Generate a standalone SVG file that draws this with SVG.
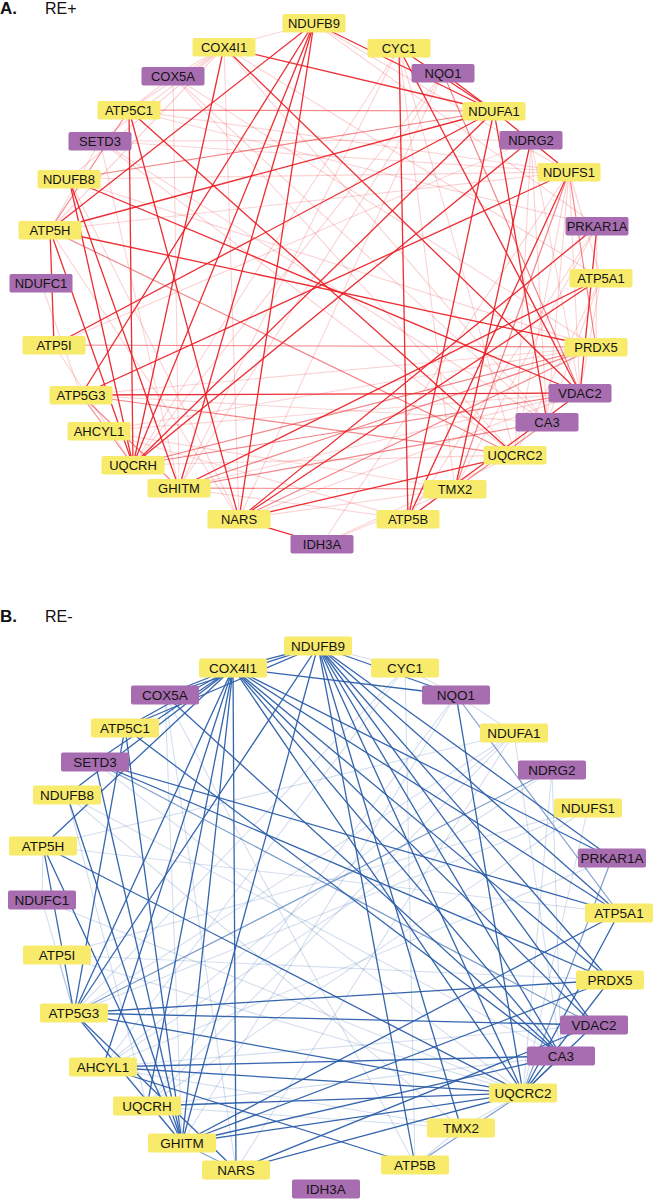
<svg xmlns="http://www.w3.org/2000/svg" width="653" height="1200" viewBox="0 0 653 1200">
<style>
.bg{fill:#ffffff}
.ttl{font-family:"Liberation Sans",Arial,sans-serif;font-size:17px;font-weight:bold;fill:#111}
.sub{font-family:"Liberation Sans",Arial,sans-serif;font-size:16px;fill:#111}
.y{fill:#f8eb6c}
.p{fill:#a86db0}
.ta{font-family:"Liberation Sans",Arial,sans-serif;font-size:13px;fill:#141414;text-anchor:middle;dominant-baseline:central}
.tb{font-family:"Liberation Sans",Arial,sans-serif;font-size:13.5px;fill:#141414;text-anchor:middle;dominant-baseline:central}
.ad{stroke:#eb2228;stroke-width:1.3;stroke-opacity:0.95}
.am{stroke:#eb2228;stroke-width:1.2;stroke-opacity:0.55}
.al{stroke:#eb2228;stroke-width:1.1;stroke-opacity:0.2}
.bd{stroke:#2a5daa;stroke-width:1.3;stroke-opacity:0.95}
.bm{stroke:#2a5daa;stroke-width:1.2;stroke-opacity:0.6}
.bl{stroke:#2a5daa;stroke-width:1.1;stroke-opacity:0.2}
</style>
<rect class="bg" x="0" y="0" width="653" height="1200"/>
<text class="ttl" x="0" y="14">A.</text>
<text class="sub" x="45" y="14">RE+</text>
<text class="ttl" x="0" y="622">B.</text>
<text class="sub" x="45" y="622">RE-</text>

<g id="edges-A" fill="none">
<line class="al" x1="314" y1="23" x2="224" y2="47"/>
<line class="al" x1="224" y1="47" x2="129" y2="110"/>
<line class="al" x1="224" y1="47" x2="69" y2="179"/>
<line class="al" x1="224" y1="47" x2="100" y2="141"/>
<line class="al" x1="224" y1="47" x2="50" y2="230"/>
<line class="al" x1="224" y1="47" x2="173" y2="76"/>
<line class="al" x1="173" y1="76" x2="129" y2="110"/>
<line class="al" x1="100" y1="141" x2="50" y2="230"/>
<line class="al" x1="100" y1="141" x2="569" y2="172"/>
<line class="al" x1="100" y1="141" x2="531" y2="140"/>
<line class="al" x1="54" y1="345" x2="133" y2="465"/>
<line class="al" x1="81" y1="395" x2="547" y2="422"/>
<line class="al" x1="99" y1="431" x2="580" y2="393"/>
<line class="al" x1="99" y1="431" x2="455" y2="489"/>
<line class="al" x1="99" y1="431" x2="408" y2="519"/>
<line class="al" x1="322" y1="544" x2="515" y2="455"/>
<line class="al" x1="322" y1="544" x2="455" y2="489"/>
<line class="al" x1="569" y1="172" x2="580" y2="393"/>
<line class="al" x1="569" y1="172" x2="547" y2="422"/>
<line class="al" x1="569" y1="172" x2="515" y2="455"/>
<line class="al" x1="569" y1="172" x2="601" y2="278"/>
<line class="al" x1="531" y1="140" x2="547" y2="422"/>
<line class="al" x1="531" y1="140" x2="580" y2="393"/>
<line class="al" x1="597" y1="226" x2="596" y2="347"/>
<line class="al" x1="601" y1="278" x2="580" y2="393"/>
<line class="al" x1="601" y1="278" x2="547" y2="422"/>
<line class="al" x1="601" y1="278" x2="515" y2="455"/>
<line class="al" x1="443" y1="73" x2="133" y2="465"/>
<line class="al" x1="443" y1="73" x2="179" y2="488"/>
<line class="al" x1="399" y1="48" x2="515" y2="455"/>
<line class="al" x1="399" y1="48" x2="455" y2="489"/>
<line class="al" x1="314" y1="23" x2="569" y2="172"/>
<line class="al" x1="314" y1="23" x2="597" y2="226"/>
<line class="al" x1="224" y1="47" x2="601" y2="278"/>
<line class="al" x1="224" y1="47" x2="547" y2="422"/>
<line class="al" x1="129" y1="110" x2="597" y2="226"/>
<line class="al" x1="173" y1="76" x2="596" y2="347"/>
<line class="al" x1="100" y1="141" x2="179" y2="488"/>
<line class="al" x1="69" y1="179" x2="239" y2="519"/>
<line class="al" x1="50" y1="230" x2="239" y2="519"/>
<line class="al" x1="239" y1="519" x2="455" y2="489"/>
<line class="al" x1="179" y1="488" x2="408" y2="519"/>
<line class="al" x1="133" y1="465" x2="515" y2="455"/>
<line class="al" x1="69" y1="179" x2="569" y2="172"/>
<line class="al" x1="224" y1="47" x2="239" y2="519"/>
<line class="al" x1="173" y1="76" x2="547" y2="422"/>
<line class="al" x1="173" y1="76" x2="179" y2="488"/>
<line class="al" x1="41" y1="283" x2="81" y2="395"/>
<line class="al" x1="531" y1="140" x2="515" y2="455"/>
<line class="al" x1="173" y1="76" x2="515" y2="455"/>
<line class="al" x1="100" y1="141" x2="547" y2="422"/>
<line class="al" x1="100" y1="141" x2="515" y2="455"/>
<line class="al" x1="129" y1="110" x2="569" y2="172"/>
<line class="al" x1="69" y1="179" x2="596" y2="347"/>
<line class="al" x1="50" y1="230" x2="569" y2="172"/>
<line class="al" x1="54" y1="345" x2="531" y2="140"/>
<line class="al" x1="81" y1="395" x2="596" y2="347"/>
<line class="al" x1="99" y1="431" x2="596" y2="347"/>
<line class="al" x1="179" y1="488" x2="580" y2="393"/>
<line class="al" x1="239" y1="519" x2="580" y2="393"/>
<line class="al" x1="455" y1="489" x2="597" y2="226"/>
<line class="al" x1="408" y1="519" x2="597" y2="226"/>
<line class="al" x1="322" y1="544" x2="569" y2="172"/>
<line class="al" x1="399" y1="48" x2="133" y2="465"/>
<line class="al" x1="443" y1="73" x2="239" y2="519"/>
<line class="al" x1="399" y1="48" x2="179" y2="488"/>
<line class="am" x1="69" y1="179" x2="494" y2="111"/>
<line class="am" x1="50" y1="230" x2="515" y2="455"/>
<line class="am" x1="133" y1="465" x2="596" y2="347"/>
<line class="am" x1="179" y1="488" x2="547" y2="422"/>
<line class="am" x1="596" y1="347" x2="179" y2="488"/>
<line class="am" x1="596" y1="347" x2="239" y2="519"/>
<line class="am" x1="569" y1="172" x2="596" y2="347"/>
<line class="am" x1="133" y1="465" x2="580" y2="393"/>
<line class="am" x1="129" y1="110" x2="50" y2="230"/>
<line class="am" x1="455" y1="489" x2="547" y2="422"/>
<line class="am" x1="81" y1="395" x2="515" y2="455"/>
<line class="am" x1="81" y1="395" x2="179" y2="488"/>
<line class="am" x1="81" y1="395" x2="133" y2="465"/>
<line class="am" x1="443" y1="73" x2="580" y2="393"/>
<line class="am" x1="569" y1="172" x2="455" y2="489"/>
<line class="am" x1="54" y1="345" x2="596" y2="347"/>
<line class="am" x1="179" y1="488" x2="455" y2="489"/>
<line class="am" x1="494" y1="111" x2="129" y2="110"/>
<line class="ad" x1="314" y1="23" x2="50" y2="230"/>
<line class="ad" x1="314" y1="23" x2="133" y2="465"/>
<line class="ad" x1="314" y1="23" x2="494" y2="111"/>
<line class="ad" x1="314" y1="23" x2="239" y2="519"/>
<line class="ad" x1="314" y1="23" x2="179" y2="488"/>
<line class="ad" x1="314" y1="23" x2="81" y2="395"/>
<line class="ad" x1="399" y1="48" x2="408" y2="519"/>
<line class="ad" x1="399" y1="48" x2="580" y2="393"/>
<line class="ad" x1="399" y1="48" x2="494" y2="111"/>
<line class="ad" x1="224" y1="47" x2="494" y2="111"/>
<line class="ad" x1="224" y1="47" x2="580" y2="393"/>
<line class="ad" x1="224" y1="47" x2="133" y2="465"/>
<line class="ad" x1="494" y1="111" x2="50" y2="230"/>
<line class="ad" x1="494" y1="111" x2="54" y2="345"/>
<line class="ad" x1="494" y1="111" x2="133" y2="465"/>
<line class="ad" x1="494" y1="111" x2="547" y2="422"/>
<line class="ad" x1="494" y1="111" x2="408" y2="519"/>
<line class="ad" x1="443" y1="73" x2="494" y2="111"/>
<line class="ad" x1="494" y1="111" x2="569" y2="172"/>
<line class="ad" x1="50" y1="230" x2="596" y2="347"/>
<line class="ad" x1="50" y1="230" x2="54" y2="345"/>
<line class="ad" x1="50" y1="230" x2="133" y2="465"/>
<line class="ad" x1="69" y1="179" x2="580" y2="393"/>
<line class="ad" x1="69" y1="179" x2="133" y2="465"/>
<line class="ad" x1="69" y1="179" x2="179" y2="488"/>
<line class="ad" x1="129" y1="110" x2="133" y2="465"/>
<line class="ad" x1="129" y1="110" x2="239" y2="519"/>
<line class="ad" x1="129" y1="110" x2="515" y2="455"/>
<line class="ad" x1="81" y1="395" x2="569" y2="172"/>
<line class="ad" x1="81" y1="395" x2="580" y2="393"/>
<line class="ad" x1="239" y1="519" x2="597" y2="226"/>
<line class="ad" x1="239" y1="519" x2="601" y2="278"/>
<line class="ad" x1="239" y1="519" x2="515" y2="455"/>
<line class="ad" x1="239" y1="519" x2="322" y2="544"/>
<line class="ad" x1="179" y1="488" x2="601" y2="278"/>
<line class="ad" x1="408" y1="519" x2="580" y2="393"/>
<line class="ad" x1="133" y1="465" x2="531" y2="140"/>
<line class="ad" x1="569" y1="172" x2="408" y2="519"/>
<line class="ad" x1="531" y1="140" x2="455" y2="489"/>
<line class="ad" x1="597" y1="226" x2="580" y2="393"/>
</g>

<g id="edges-B" fill="none">
<line class="bl" x1="405" y1="668" x2="103" y2="1067"/>
<line class="bl" x1="405" y1="668" x2="415" y2="1165"/>
<line class="bl" x1="456" y1="695" x2="147" y2="1106"/>
<line class="bl" x1="514" y1="733" x2="74" y2="1013"/>
<line class="bl" x1="588" y1="808" x2="57" y2="955"/>
<line class="bl" x1="552" y1="770" x2="523" y2="1093"/>
<line class="bl" x1="552" y1="770" x2="561" y2="1056"/>
<line class="bl" x1="456" y1="695" x2="514" y2="733"/>
<line class="bl" x1="42" y1="900" x2="74" y2="1013"/>
<line class="bl" x1="42" y1="900" x2="43" y2="846"/>
<line class="bl" x1="57" y1="955" x2="74" y2="1013"/>
<line class="bl" x1="57" y1="955" x2="523" y2="1093"/>
<line class="bl" x1="461" y1="1128" x2="523" y2="1093"/>
<line class="bl" x1="67" y1="795" x2="147" y2="1106"/>
<line class="bl" x1="67" y1="795" x2="561" y2="1056"/>
<line class="bl" x1="95" y1="762" x2="523" y2="1093"/>
<line class="bl" x1="165" y1="695" x2="182" y2="1143"/>
<line class="bl" x1="165" y1="695" x2="236" y2="1170"/>
<line class="bl" x1="103" y1="1067" x2="514" y2="733"/>
<line class="bl" x1="103" y1="1067" x2="552" y2="770"/>
<line class="bl" x1="147" y1="1106" x2="561" y2="1056"/>
<line class="bl" x1="103" y1="1067" x2="594" y2="1025"/>
<line class="bl" x1="318" y1="646" x2="405" y2="668"/>
<line class="bl" x1="405" y1="668" x2="456" y2="695"/>
<line class="bl" x1="43" y1="846" x2="619" y2="913"/>
<line class="bl" x1="588" y1="808" x2="523" y2="1093"/>
<line class="bl" x1="588" y1="808" x2="147" y2="1106"/>
<line class="bl" x1="514" y1="733" x2="561" y2="1056"/>
<line class="bl" x1="461" y1="1128" x2="415" y2="1165"/>
<line class="bl" x1="147" y1="1106" x2="461" y2="1128"/>
<line class="bl" x1="103" y1="1067" x2="461" y2="1128"/>
<line class="bl" x1="514" y1="733" x2="147" y2="1106"/>
<line class="bl" x1="514" y1="733" x2="236" y2="1170"/>
<line class="bl" x1="456" y1="695" x2="182" y2="1143"/>
<line class="bl" x1="405" y1="668" x2="74" y2="1013"/>
<line class="bl" x1="588" y1="808" x2="74" y2="1013"/>
<line class="bl" x1="612" y1="858" x2="103" y2="1067"/>
<line class="bl" x1="57" y1="955" x2="610" y2="980"/>
<line class="bl" x1="42" y1="900" x2="523" y2="1093"/>
<line class="bl" x1="67" y1="795" x2="461" y2="1128"/>
<line class="bl" x1="165" y1="695" x2="415" y2="1165"/>
<line class="bl" x1="514" y1="733" x2="43" y2="846"/>
<line class="bm" x1="552" y1="770" x2="74" y2="1013"/>
<line class="bm" x1="456" y1="695" x2="619" y2="913"/>
<line class="bm" x1="415" y1="1165" x2="523" y2="1093"/>
<line class="bm" x1="612" y1="858" x2="523" y2="1093"/>
<line class="bm" x1="236" y1="1170" x2="182" y2="1143"/>
<line class="bm" x1="95" y1="762" x2="594" y2="1025"/>
<line class="bm" x1="561" y1="1056" x2="523" y2="1093"/>
<line class="bd" x1="318" y1="646" x2="233" y2="668"/>
<line class="bd" x1="318" y1="646" x2="165" y2="695"/>
<line class="bd" x1="318" y1="646" x2="125" y2="728"/>
<line class="bd" x1="318" y1="646" x2="456" y2="695"/>
<line class="bd" x1="318" y1="646" x2="415" y2="1165"/>
<line class="bd" x1="318" y1="646" x2="523" y2="1093"/>
<line class="bd" x1="318" y1="646" x2="561" y2="1056"/>
<line class="bd" x1="318" y1="646" x2="594" y2="1025"/>
<line class="bd" x1="318" y1="646" x2="610" y2="980"/>
<line class="bd" x1="318" y1="646" x2="619" y2="913"/>
<line class="bd" x1="318" y1="646" x2="612" y2="858"/>
<line class="bd" x1="318" y1="646" x2="74" y2="1013"/>
<line class="bd" x1="318" y1="646" x2="182" y2="1143"/>
<line class="bd" x1="318" y1="646" x2="461" y2="1128"/>
<line class="bd" x1="233" y1="668" x2="165" y2="695"/>
<line class="bd" x1="233" y1="668" x2="125" y2="728"/>
<line class="bd" x1="233" y1="668" x2="95" y2="762"/>
<line class="bd" x1="233" y1="668" x2="67" y2="795"/>
<line class="bd" x1="233" y1="668" x2="43" y2="846"/>
<line class="bd" x1="233" y1="668" x2="236" y2="1170"/>
<line class="bd" x1="233" y1="668" x2="182" y2="1143"/>
<line class="bd" x1="233" y1="668" x2="147" y2="1106"/>
<line class="bd" x1="233" y1="668" x2="103" y2="1067"/>
<line class="bd" x1="233" y1="668" x2="74" y2="1013"/>
<line class="bd" x1="233" y1="668" x2="456" y2="695"/>
<line class="bd" x1="233" y1="668" x2="612" y2="858"/>
<line class="bd" x1="233" y1="668" x2="619" y2="913"/>
<line class="bd" x1="233" y1="668" x2="523" y2="1093"/>
<line class="bd" x1="233" y1="668" x2="561" y2="1056"/>
<line class="bd" x1="233" y1="668" x2="594" y2="1025"/>
<line class="bd" x1="233" y1="668" x2="610" y2="980"/>
<line class="bd" x1="165" y1="695" x2="561" y2="1056"/>
<line class="bd" x1="125" y1="728" x2="74" y2="1013"/>
<line class="bd" x1="125" y1="728" x2="182" y2="1143"/>
<line class="bd" x1="125" y1="728" x2="561" y2="1056"/>
<line class="bd" x1="95" y1="762" x2="619" y2="913"/>
<line class="bd" x1="95" y1="762" x2="182" y2="1143"/>
<line class="bd" x1="95" y1="762" x2="610" y2="980"/>
<line class="bd" x1="43" y1="846" x2="74" y2="1013"/>
<line class="bd" x1="43" y1="846" x2="182" y2="1143"/>
<line class="bd" x1="43" y1="846" x2="523" y2="1093"/>
<line class="bd" x1="74" y1="1013" x2="610" y2="980"/>
<line class="bd" x1="74" y1="1013" x2="594" y2="1025"/>
<line class="bd" x1="74" y1="1013" x2="523" y2="1093"/>
<line class="bd" x1="74" y1="1013" x2="236" y2="1170"/>
<line class="bd" x1="74" y1="1013" x2="182" y2="1143"/>
<line class="bd" x1="103" y1="1067" x2="561" y2="1056"/>
<line class="bd" x1="103" y1="1067" x2="523" y2="1093"/>
<line class="bd" x1="103" y1="1067" x2="415" y2="1165"/>
<line class="bd" x1="147" y1="1106" x2="523" y2="1093"/>
<line class="bd" x1="182" y1="1143" x2="619" y2="913"/>
<line class="bd" x1="182" y1="1143" x2="610" y2="980"/>
<line class="bd" x1="182" y1="1143" x2="561" y2="1056"/>
<line class="bd" x1="182" y1="1143" x2="523" y2="1093"/>
<line class="bd" x1="236" y1="1170" x2="523" y2="1093"/>
<line class="bd" x1="236" y1="1170" x2="594" y2="1025"/>
<line class="bd" x1="456" y1="695" x2="523" y2="1093"/>
<line class="bd" x1="610" y1="980" x2="523" y2="1093"/>
<line class="bd" x1="619" y1="913" x2="523" y2="1093"/>
<line class="bd" x1="594" y1="1025" x2="523" y2="1093"/>
<line class="bd" x1="67" y1="795" x2="182" y2="1143"/>
</g>

<g id="nodes-A">
<g id="a-NDUFB9"><rect class="y" x="282.5" y="14" width="63" height="18.5" rx="2"/><text class="ta" x="314" y="23.5">NDUFB9</text></g>
<g id="a-CYC1"><rect class="y" x="367.5" y="39" width="63" height="18.5" rx="2"/><text class="ta" x="399" y="48.5">CYC1</text></g>
<g id="a-NQO1"><rect class="p" x="411.5" y="64" width="63" height="18.5" rx="2"/><text class="ta" x="443" y="73.5">NQO1</text></g>
<g id="a-NDUFA1"><rect class="y" x="462.5" y="102" width="63" height="18.5" rx="2"/><text class="ta" x="494" y="111.5">NDUFA1</text></g>
<g id="a-NDRG2"><rect class="p" x="499.5" y="131" width="63" height="18.5" rx="2"/><text class="ta" x="531" y="140.5">NDRG2</text></g>
<g id="a-NDUFS1"><rect class="y" x="537.5" y="163" width="63" height="18.5" rx="2"/><text class="ta" x="569" y="172.5">NDUFS1</text></g>
<g id="a-PRKAR1A"><rect class="p" x="565.5" y="217" width="63" height="18.5" rx="2"/><text class="ta" x="597" y="226.5">PRKAR1A</text></g>
<g id="a-ATP5A1"><rect class="y" x="569.5" y="269" width="63" height="18.5" rx="2"/><text class="ta" x="601" y="278.5">ATP5A1</text></g>
<g id="a-PRDX5"><rect class="y" x="564.5" y="338" width="63" height="18.5" rx="2"/><text class="ta" x="596" y="347.5">PRDX5</text></g>
<g id="a-VDAC2"><rect class="p" x="548.5" y="384" width="63" height="18.5" rx="2"/><text class="ta" x="580" y="393.5">VDAC2</text></g>
<g id="a-CA3"><rect class="p" x="515.5" y="413" width="63" height="18.5" rx="2"/><text class="ta" x="547" y="422.5">CA3</text></g>
<g id="a-UQCRC2"><rect class="y" x="483.5" y="446" width="63" height="18.5" rx="2"/><text class="ta" x="515" y="455.5">UQCRC2</text></g>
<g id="a-TMX2"><rect class="y" x="423.5" y="480" width="63" height="18.5" rx="2"/><text class="ta" x="455" y="489.5">TMX2</text></g>
<g id="a-ATP5B"><rect class="y" x="376.5" y="510" width="63" height="18.5" rx="2"/><text class="ta" x="408" y="519.5">ATP5B</text></g>
<g id="a-IDH3A"><rect class="p" x="290.5" y="535" width="63" height="18.5" rx="2"/><text class="ta" x="322" y="544.5">IDH3A</text></g>
<g id="a-NARS"><rect class="y" x="207.5" y="510" width="63" height="18.5" rx="2"/><text class="ta" x="239" y="519.5">NARS</text></g>
<g id="a-GHITM"><rect class="y" x="147.5" y="479" width="63" height="18.5" rx="2"/><text class="ta" x="179" y="488.5">GHITM</text></g>
<g id="a-UQCRH"><rect class="y" x="101.5" y="456" width="63" height="18.5" rx="2"/><text class="ta" x="133" y="465.5">UQCRH</text></g>
<g id="a-AHCYL1"><rect class="y" x="67.5" y="422" width="63" height="18.5" rx="2"/><text class="ta" x="99" y="431.5">AHCYL1</text></g>
<g id="a-ATP5G3"><rect class="y" x="49.5" y="386" width="63" height="18.5" rx="2"/><text class="ta" x="81" y="395.5">ATP5G3</text></g>
<g id="a-ATP5I"><rect class="y" x="22.5" y="336" width="63" height="18.5" rx="2"/><text class="ta" x="54" y="345.5">ATP5I</text></g>
<g id="a-NDUFC1"><rect class="p" x="9.5" y="274" width="63" height="18.5" rx="2"/><text class="ta" x="41" y="283.5">NDUFC1</text></g>
<g id="a-ATP5H"><rect class="y" x="18.5" y="221" width="63" height="18.5" rx="2"/><text class="ta" x="50" y="230.5">ATP5H</text></g>
<g id="a-NDUFB8"><rect class="y" x="37.5" y="170" width="63" height="18.5" rx="2"/><text class="ta" x="69" y="179.5">NDUFB8</text></g>
<g id="a-SETD3"><rect class="p" x="68.5" y="132" width="63" height="18.5" rx="2"/><text class="ta" x="100" y="141.5">SETD3</text></g>
<g id="a-ATP5C1"><rect class="y" x="97.5" y="101" width="63" height="18.5" rx="2"/><text class="ta" x="129" y="110.5">ATP5C1</text></g>
<g id="a-COX5A"><rect class="p" x="141.5" y="67" width="63" height="18.5" rx="2"/><text class="ta" x="173" y="76.5">COX5A</text></g>
<g id="a-COX4I1"><rect class="y" x="192.5" y="38" width="63" height="18.5" rx="2"/><text class="ta" x="224" y="47.5">COX4I1</text></g>
</g>

<g id="nodes-B">
<g id="b-NDUFB9"><rect class="y" x="284" y="636.5" width="68" height="19" rx="2"/><text class="tb" x="318" y="646.5">NDUFB9</text></g>
<g id="b-CYC1"><rect class="y" x="371" y="658.5" width="68" height="19" rx="2"/><text class="tb" x="405" y="668.5">CYC1</text></g>
<g id="b-NQO1"><rect class="p" x="422" y="685.5" width="68" height="19" rx="2"/><text class="tb" x="456" y="695.5">NQO1</text></g>
<g id="b-NDUFA1"><rect class="y" x="480" y="723.5" width="68" height="19" rx="2"/><text class="tb" x="514" y="733.5">NDUFA1</text></g>
<g id="b-NDRG2"><rect class="p" x="518" y="760.5" width="68" height="19" rx="2"/><text class="tb" x="552" y="770.5">NDRG2</text></g>
<g id="b-NDUFS1"><rect class="y" x="554" y="798.5" width="68" height="19" rx="2"/><text class="tb" x="588" y="808.5">NDUFS1</text></g>
<g id="b-PRKAR1A"><rect class="p" x="578" y="848.5" width="68" height="19" rx="2"/><text class="tb" x="612" y="858.5">PRKAR1A</text></g>
<g id="b-ATP5A1"><rect class="y" x="585" y="903.5" width="68" height="19" rx="2"/><text class="tb" x="619" y="913.5">ATP5A1</text></g>
<g id="b-PRDX5"><rect class="y" x="576" y="970.5" width="68" height="19" rx="2"/><text class="tb" x="610" y="980.5">PRDX5</text></g>
<g id="b-VDAC2"><rect class="p" x="560" y="1015.5" width="68" height="19" rx="2"/><text class="tb" x="594" y="1025.5">VDAC2</text></g>
<g id="b-CA3"><rect class="p" x="527" y="1046.5" width="68" height="19" rx="2"/><text class="tb" x="561" y="1056.5">CA3</text></g>
<g id="b-UQCRC2"><rect class="y" x="489" y="1083.5" width="68" height="19" rx="2"/><text class="tb" x="523" y="1093.5">UQCRC2</text></g>
<g id="b-TMX2"><rect class="y" x="427" y="1118.5" width="68" height="19" rx="2"/><text class="tb" x="461" y="1128.5">TMX2</text></g>
<g id="b-ATP5B"><rect class="y" x="381" y="1155.5" width="68" height="19" rx="2"/><text class="tb" x="415" y="1165.5">ATP5B</text></g>
<g id="b-IDH3A"><rect class="p" x="292" y="1179.5" width="68" height="19" rx="2"/><text class="tb" x="326" y="1189.5">IDH3A</text></g>
<g id="b-NARS"><rect class="y" x="202" y="1160.5" width="68" height="19" rx="2"/><text class="tb" x="236" y="1170.5">NARS</text></g>
<g id="b-GHITM"><rect class="y" x="148" y="1133.5" width="68" height="19" rx="2"/><text class="tb" x="182" y="1143.5">GHITM</text></g>
<g id="b-UQCRH"><rect class="y" x="113" y="1096.5" width="68" height="19" rx="2"/><text class="tb" x="147" y="1106.5">UQCRH</text></g>
<g id="b-AHCYL1"><rect class="y" x="69" y="1057.5" width="68" height="19" rx="2"/><text class="tb" x="103" y="1067.5">AHCYL1</text></g>
<g id="b-ATP5G3"><rect class="y" x="40" y="1003.5" width="68" height="19" rx="2"/><text class="tb" x="74" y="1013.5">ATP5G3</text></g>
<g id="b-ATP5I"><rect class="y" x="23" y="945.5" width="68" height="19" rx="2"/><text class="tb" x="57" y="955.5">ATP5I</text></g>
<g id="b-NDUFC1"><rect class="p" x="8" y="890.5" width="68" height="19" rx="2"/><text class="tb" x="42" y="900.5">NDUFC1</text></g>
<g id="b-ATP5H"><rect class="y" x="9" y="836.5" width="68" height="19" rx="2"/><text class="tb" x="43" y="846.5">ATP5H</text></g>
<g id="b-NDUFB8"><rect class="y" x="33" y="785.5" width="68" height="19" rx="2"/><text class="tb" x="67" y="795.5">NDUFB8</text></g>
<g id="b-SETD3"><rect class="p" x="61" y="752.5" width="68" height="19" rx="2"/><text class="tb" x="95" y="762.5">SETD3</text></g>
<g id="b-ATP5C1"><rect class="y" x="91" y="718.5" width="68" height="19" rx="2"/><text class="tb" x="125" y="728.5">ATP5C1</text></g>
<g id="b-COX5A"><rect class="p" x="131" y="685.5" width="68" height="19" rx="2"/><text class="tb" x="165" y="695.5">COX5A</text></g>
<g id="b-COX4I1"><rect class="y" x="199" y="658.5" width="68" height="19" rx="2"/><text class="tb" x="233" y="668.5">COX4I1</text></g>
</g>
</svg>
